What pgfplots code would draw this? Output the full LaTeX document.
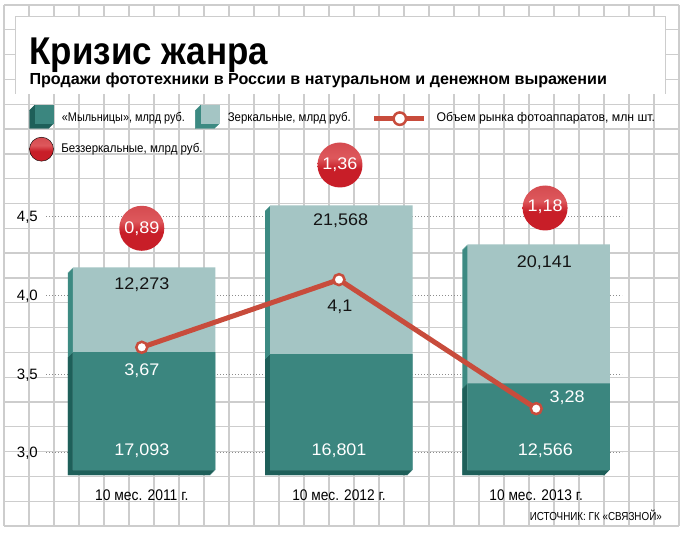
\documentclass[border=0pt]{standalone}
\usepackage{graphicx}
\usepackage{pgfplots}
\pgfplotsset{compat=1.18}
\usepackage{pgfplotstable}
\usepackage{fontspec}
\setmainfont{Liberation Sans}
\newfontfamily\numfont[FakeStretch=1.07]{Liberation Sans}

\definecolor{darkT}{RGB}{59,134,127}
\definecolor{lightT}{RGB}{164,197,196}
\definecolor{sideD}{RGB}{30,95,89}
\definecolor{sideL}{RGB}{60,138,130}
\definecolor{lineRed}{RGB}{200,76,60}
\definecolor{gridC}{RGB}{205,205,205}
\definecolor{dotC}{RGB}{140,140,140}
\definecolor{ballD}{RGB}{172,20,30}
\definecolor{ballB}{RGB}{200,30,40}
\definecolor{ballH}{RGB}{222,88,92}
\definecolor{ballT}{RGB}{198,56,62}

\pgfdeclareverticalshading{redballshade}{100bp}{color(0bp)=(ballD); color(20bp)=(ballB); color(46bp)=(ballB); color(58bp)=(ballH); color(100bp)=(ballT)}
\pgfdeclareplotmark{redball}{%
  \pgfpathcircle{\pgfpointorigin}{\pgfplotmarksize}%
  \pgfshadepath{redballshade}{0}%
  \pgfusepath{discard}}

\newcommand\legfont{\fontsize{12.6pt}{13pt}\selectfont}
\newcommand\numsz{\numfont\fontsize{16.8pt}{17pt}\selectfont}
\newcommand\catfont{\fontsize{15.4pt}{16pt}\selectfont}

\pgfplotstableread{
x dark light
0 17.093 12.273
1 16.801 21.568
2 12.566 20.141
}\bardata

\tikzset{numlab/.style={font=\numsz, inner sep=0pt, text depth=0pt, anchor=center, text=black!92}}
\pgfplotsset{
  bars/.style={ybar, bar width=142.5pt, bar shift=2.3pt, draw=none, forget plot},
  samebox/.style={at={(46pt,66pt)}, anchor=south west, scale only axis,
    width=576pt, height=340pt, xmin=-0.4858, xmax=2.4351, clip=false},
  mylegend/.style={legend cell align=left,
    legend style={draw=none, fill=none, inner sep=0pt, outer sep=0pt,
      nodes={inner sep=0pt, text depth=0pt, font=\legfont}, anchor=north west}},
}

\begin{document}
\begin{tikzpicture}[x=1pt,y=1pt]
\fill[white] (0,0) rectangle (687,536);
\foreach \k in {0,...,27} \draw[gridC, line width=1.3pt] ({4+25*\k},531) -- ({4+25*\k},10);
\foreach \k in {0,...,21} \draw[gridC, line width=1.3pt] (4,{531-24.81*\k}) -- (679,{531-24.81*\k});
\fill[white] (15,442) rectangle (665,519.3);
\draw[gridC, line width=1pt] (15,442) -- (15,519.3) -- (665,519.3) -- (665,442);

\node[anchor=base west, inner sep=0pt] at (29.3,471) {\fontsize{38.7pt}{40pt}\selectfont\bfseries\resizebox{238.7pt}{\height}{Кризис жанра}};
\node[anchor=base west, inner sep=0pt] at (29.3,451) {\fontsize{16pt}{17pt}\selectfont\bfseries\resizebox{577.4pt}{\height}{Продажи фототехники в России в натуральном и денежном выражении}};
\node[anchor=base east, inner sep=0pt] at (662,16) {\fontsize{11.6pt}{12pt}\selectfont\resizebox{132pt}{\height}{ИСТОЧНИК: ГК «СВЯЗНОЙ»}};

% axis 1: value scale, dotted grid, mirrorless balls
\begin{axis}[samebox, ymin=2.89, ymax=5.05106,
  axis line style={draw=none}, tick style={draw=none},
  xtick=\empty, ytick={3,3.5,4,4.5}, yticklabels={{3,0},{3,5},{4,0},{4,5}},
  yticklabel style={font=\fontsize{15pt}{15pt}\selectfont, anchor=east, inner sep=0pt, text depth=0pt, xshift=-8pt},
  ymajorgrids, major grid style={dotC, line width=1pt, dash pattern=on 1pt off 2pt},
  mylegend, legend style={at={(-0.02899,0.97941)}, /tikz/every odd column/.append style={column sep=7.7pt}}]
\addplot[only marks, mark=redball, mark size=22.5pt, forget plot] coordinates {(0,4.4263) (1.005,4.8286) (2.045,4.5553)};
\addlegendimage{legend image code/.code={\shade[shading=redballshade] (12pt,-0.9pt) circle (12pt);}}
\addlegendentry{\resizebox{141.3pt}{\height}{Беззеркальные, млрд руб.}}
\end{axis}

% axis 2: stacked 3D bars (billion rub.)
\begin{axis}[samebox, ymin=0, ymax=49.2754, hide axis,
  mylegend, legend columns=2,
  legend style={at={(-0.02899,1.07353)},
    /tikz/every odd column/.append style={column sep=8.2pt},
    /tikz/every even column/.append style={column sep=10.3pt}}]
\pgfplotsinvokeforeach{5,4,3,2,1}{
  \addplot[bars, fill=sideL, xshift=-#1pt, yshift=-#1pt] table[x=x, y expr=\thisrow{dark}+\thisrow{light}] {\bardata};
}
\pgfplotsinvokeforeach{5,4,3,2,1}{
  \addplot[bars, fill=sideD, xshift=-#1pt, yshift=-#1pt] table[x=x, y=dark] {\bardata};
}
\addplot[bars, fill=lightT] table[x=x, y expr=\thisrow{dark}+\thisrow{light}] {\bardata};
\addplot[bars, fill=darkT] table[x=x, y=dark] {\bardata};

\node[numlab, text=white] at (axis cs:0,2.94) {17,093};
\node[numlab, text=white] at (axis cs:1,2.94) {16,801};
\node[numlab, text=white] at (axis cs:2.046,2.94) {12,566};
\node[numlab] at (axis cs:0,27.07) {12,273};
\node[numlab] at (axis cs:1.008,36.28) {21,568};
\node[numlab] at (axis cs:2.041,30.19) {20,141};

\node[anchor=base, inner sep=0pt] at (axis cs:0,-4.449) {\catfont\resizebox{93.5pt}{\height}{10 мес. 2011 г.}};
\node[anchor=base, inner sep=0pt] at (axis cs:1,-4.449) {\catfont\resizebox{93.5pt}{\height}{10 мес. 2012 г.}};
\node[anchor=base, inner sep=0pt] at (axis cs:2,-4.449) {\catfont\resizebox{93.5pt}{\height}{10 мес. 2013 г.}};

\addlegendimage{legend image code/.code={
  \fill[sideD] (5.3pt,11.8pt) -- (0pt,6.5pt) -- (0pt,-11.5pt) -- (18.7pt,-11.5pt) -- (24pt,-6.5pt) -- cycle;
  \fill[darkT] (5.3pt,-6.5pt) rectangle (24pt,11.8pt);}}
\addlegendentry{\resizebox{123pt}{\height}{«Мыльницы», млрд руб.}}
\addlegendimage{legend image code/.code={
  \fill[sideL] (5.3pt,11.8pt) -- (0pt,6.5pt) -- (0pt,-11.5pt) -- (18.7pt,-11.5pt) -- (24pt,-6.5pt) -- cycle;
  \fill[lightT] (5.3pt,-6.5pt) rectangle (24pt,11.8pt);}}
\addlegendentry{\resizebox{123pt}{\height}{Зеркальные, млрд руб.}}
\end{axis}

% axis 3: camera market volume, mln units; labels of the balls
\begin{axis}[samebox, ymin=2.89, ymax=5.05106, hide axis,
  mylegend, legend style={at={(0.56545,1.05529)}, /tikz/every odd column/.append style={column sep=10pt}}]
\addplot[lineRed, line width=5pt, mark=*, mark size=5.5pt,
  mark options={fill=white, draw=lineRed, line width=2.5pt}, forget plot]
  coordinates {(0,3.67) (1,4.1) (2,3.28)};
\node[numlab, text=white] at (axis cs:0,3.5276) {3,67};
\node[numlab] at (axis cs:1.005,3.9337) {4,1};
\node[numlab, text=white] at (axis cs:2.157,3.354) {3,28};
\node[numlab, text=white] at (axis cs:0,4.430) {0,89};
\node[numlab, text=white] at (axis cs:1.005,4.835) {1,36};
\node[numlab, text=white] at (axis cs:2.045,4.5731) {1,18};
\addlegendimage{legend image code/.code={
  \draw[lineRed, line width=5pt] (0pt,-1.5pt) -- (50pt,-1.5pt);
  \draw[lineRed, line width=2.5pt, fill=white] (25.6pt,-1.5pt) circle (6.2pt);}}
\addlegendentry{\resizebox{218.3pt}{\height}{Объем рынка фотоаппаратов, млн шт.}}
\end{axis}

\pgfresetboundingbox
\useasboundingbox (0,0) rectangle (687,536);
\end{tikzpicture}
\end{document}
